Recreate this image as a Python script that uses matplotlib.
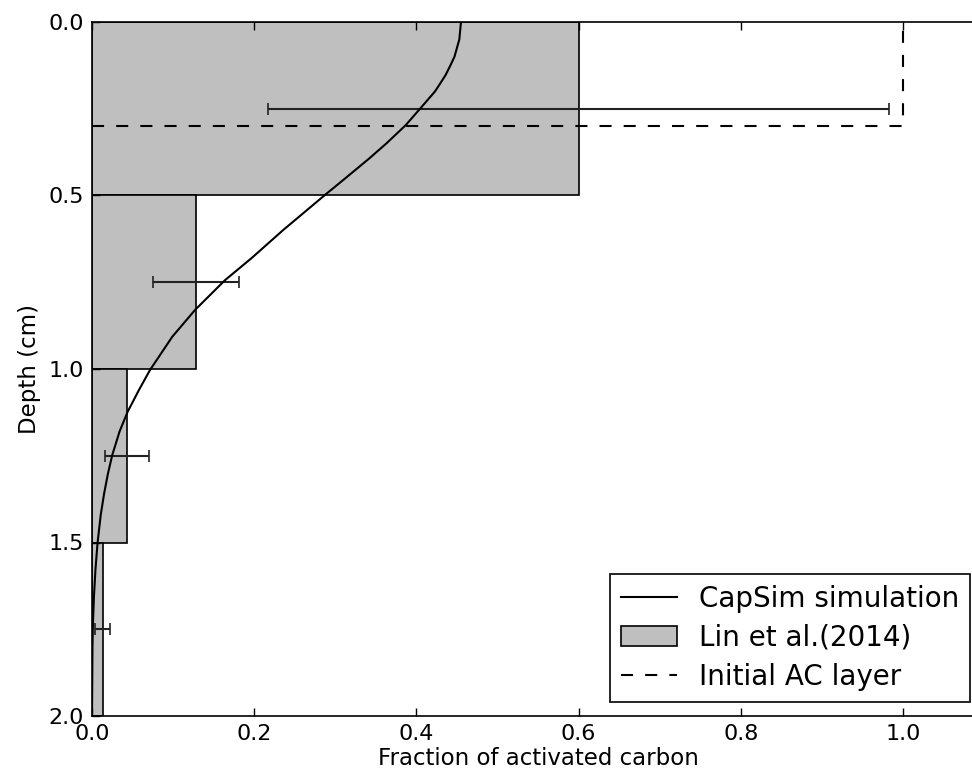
import matplotlib
matplotlib.use("Agg")
import matplotlib.pyplot as plt
from matplotlib.lines import Line2D
from matplotlib.patches import Patch

# Lin et al. (2014) measured AC fraction per depth slice
layer_top = [0.0, 0.5, 1.0, 1.5]
layer_thick = [0.5, 0.5, 0.5, 0.5]
layer_mid = [0.25, 0.75, 1.25, 1.75]
lin_frac = [0.600, 0.128, 0.0435, 0.013]
lin_err = [0.383, 0.053, 0.027, 0.009]

# CapSim simulation profile
sim_depth = [0.0, 0.05, 0.10, 0.125, 0.153, 0.175, 0.20, 0.246, 0.297, 0.35,
             0.393, 0.455, 0.499, 0.556, 0.599, 0.68, 0.744, 0.830, 0.907, 1.003,
             1.06, 1.123, 1.18, 1.248, 1.30, 1.358, 1.42, 1.502, 1.58, 1.656,
             1.73, 1.80, 2.0]
sim_frac = [0.455, 0.453, 0.447, 0.442, 0.436, 0.430, 0.423, 0.406, 0.387, 0.363,
            0.342, 0.310, 0.287, 0.258, 0.236, 0.197, 0.164, 0.127, 0.099, 0.0715,
            0.058, 0.0440, 0.034, 0.0250, 0.0198, 0.0150, 0.0108, 0.0068, 0.0042, 0.0024,
            0.0012, 0.0006, 0.0]

# initial activated-carbon layer outline
init_x = [0.0, 1.0, 1.0]
init_y = [0.3, 0.3, 0.0]

plt.rcParams["font.family"] = "DejaVu Sans"

fig = plt.figure(figsize=(9.72, 7.76), dpi=100)
ax = fig.add_axes([92 / 972, 60 / 776, 892 / 972, 694 / 776])

ax.barh(layer_top, lin_frac, height=layer_thick, align="edge",
        color="#bfbfbf", edgecolor="black", linewidth=1.2, zorder=1)
ax.errorbar(lin_frac, layer_mid, xerr=lin_err, fmt="none", ecolor="#222222",
            elinewidth=1.5, capsize=4.5, capthick=1.2, zorder=2)
ax.plot(sim_frac, sim_depth, color="black", linewidth=1.5, zorder=3)
ax.plot(init_x, init_y, color="black", linewidth=1.5,
        linestyle=(0, (5.8, 5.8)), zorder=3)

ax.set_xlim(0, 1.1)
ax.set_ylim(2.0, 0.0)
ax.set_xticks([0.0, 0.2, 0.4, 0.6, 0.8, 1.0])
ax.set_yticks([0.0, 0.5, 1.0, 1.5, 2.0])
ax.tick_params(direction="in", top=True, right=True, labelsize=16,
               length=6, width=1, pad=6)
for s in ax.spines.values():
    s.set_linewidth(1.2)
ax.set_xlabel("Fraction of activated carbon", fontsize=16.5, labelpad=2)
ax.set_ylabel("Depth (cm)", fontsize=16.5, labelpad=5)

handles = [
    Line2D([], [], color="black", linewidth=1.5),
    Patch(facecolor="#bfbfbf", edgecolor="black", linewidth=1.2),
    Line2D([], [], color="black", linewidth=1.5, linestyle=(0, (5.8, 5.8))),
]
labels = ["CapSim simulation", "Lin et al.(2014)", "Initial AC layer"]
leg = ax.legend(handles, labels, loc="lower right", fontsize=20,
                fancybox=False, framealpha=1, edgecolor="black",
                borderaxespad=0.5, labelspacing=0.4)
leg.get_frame().set_linewidth(1.2)

fig.savefig("out.png", dpi=100)
